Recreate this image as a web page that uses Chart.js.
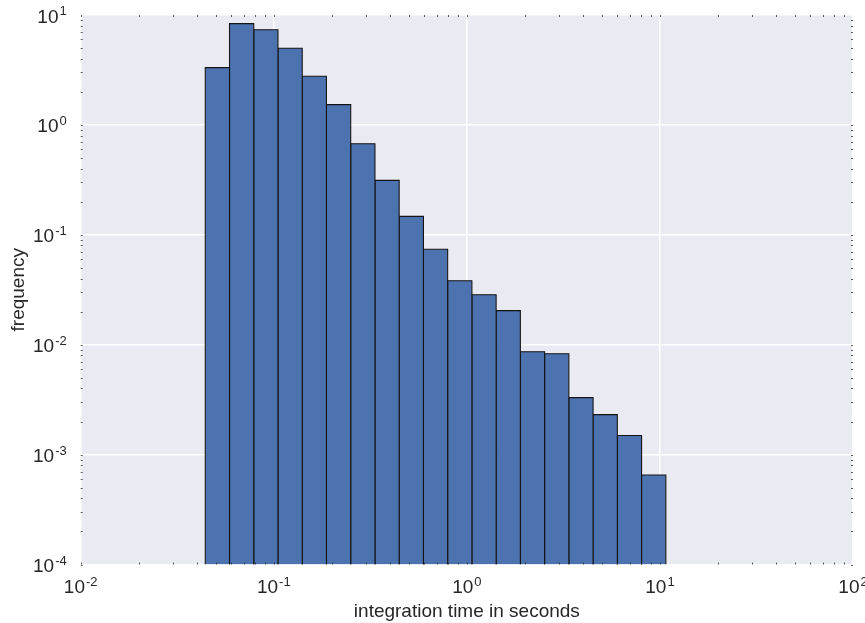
<!DOCTYPE html>
<html>
<head>
<meta charset="utf-8">
<script src="https://cdn.jsdelivr.net/npm/chart.js@4/dist/chart.umd.min.js"></script>
<style>
  html, body { margin: 0; padding: 0; background: #fff; }
  canvas { display: block; }
</style>
</head>
<body>
<canvas id="hist" width="865" height="623"></canvas>
<script>
  // ===== Data =====
  const binEdges = [0.04418, 0.05899, 0.07875, 0.1051, 0.1404, 0.1874, 0.2503, 0.3342, 0.4462, 0.5958,
                    0.7954, 1.062, 1.418, 1.893, 2.528, 3.375, 4.506, 6.017, 8.034, 10.73];
  const freq = [3.32, 8.34, 7.35, 4.98, 2.77, 1.53, 0.674, 0.313, 0.147, 0.0738,
                0.0382, 0.0285, 0.0204, 0.00863, 0.00828, 0.0033, 0.00231, 0.00149, 0.000652];
  const xTicks = [0.01, 0.1, 1, 10, 100];
  const xExp = ["-2", "-1", "0", "1", "2"];
  const yTicks = [0.0001, 0.001, 0.01, 0.1, 1, 10];
  const yExp = ["-4", "-3", "-2", "-1", "0", "1"];

  const yMin = yTicks[0];
  const textColor = "#262626";

  // one closed outline per bin, filled down to the bottom of the axis
  const datasets = freq.map((v, i) => ({
    data: [
      { x: binEdges[i], y: yMin },
      { x: binEdges[i], y: v },
      { x: binEdges[i + 1], y: v },
      { x: binEdges[i + 1], y: yMin }
    ],
    borderColor: "#141414",
    borderWidth: 1.1,
    backgroundColor: "#4c72b0",
    fill: "start",
    pointRadius: 0,
    tension: 0
  }));

  // ===== Background, ticks and labels =====
  function drawPow(ctx, exp, x, y, align, raise) {
    ctx.font = "19px 'Liberation Sans', Arial, sans-serif";
    let wBase = ctx.measureText("10").width;
    ctx.font = "13px 'Liberation Sans', Arial, sans-serif";
    let wExp = ctx.measureText(exp).width;
    let total = wBase + 1 + wExp;
    let start = align === "center" ? x - total / 2 : x - total;
    ctx.textAlign = "left";
    ctx.textBaseline = "alphabetic";
    ctx.font = "19px 'Liberation Sans', Arial, sans-serif";
    ctx.fillText("10", start, y);
    ctx.font = "13px 'Liberation Sans', Arial, sans-serif";
    ctx.fillText(exp, start + wBase + 1, y - raise);
  }

  const decor = {
    id: "decor",
    beforeDraw(chart) {
      const { ctx, chartArea: a } = chart;
      ctx.save();
      ctx.fillStyle = "#eaeaf2";
      ctx.fillRect(a.left, a.top, a.right - a.left, a.bottom - a.top);
      ctx.restore();
    },
    afterDraw(chart) {
      const { ctx, chartArea: a, scales } = chart;
      const x = scales.x, y = scales.y;
      ctx.save();

      // small inward ticks on all four sides
      ctx.strokeStyle = "rgba(40,40,40,0.75)";
      ctx.lineWidth = 1;
      ctx.beginPath();
      for (let d = -2; d <= 1; d++) {
        for (let m = 1; m <= 9; m++) {
          let px = Math.round(x.getPixelForValue(m * Math.pow(10, d))) + 0.5;
          ctx.moveTo(px, a.top); ctx.lineTo(px, a.top + 2);
          ctx.moveTo(px, a.bottom); ctx.lineTo(px, a.bottom - 2);
        }
      }
      for (let d = -4; d <= 0; d++) {
        for (let m = 1; m <= 9; m++) {
          let py = Math.round(y.getPixelForValue(m * Math.pow(10, d))) + 0.5;
          ctx.moveTo(a.left, py); ctx.lineTo(a.left + 2, py);
          ctx.moveTo(a.right, py); ctx.lineTo(a.right - 2, py);
        }
      }
      ctx.stroke();

      ctx.fillStyle = textColor;
      xTicks.forEach((v, i) => {
        drawPow(ctx, xExp[i], x.getPixelForValue(v), a.bottom + 28, "center", 6.5);
      });
      yTicks.forEach((v, i) => {
        drawPow(ctx, yExp[i], a.left - 14, y.getPixelForValue(v) + 7.5, "right", 7.5);
      });

      ctx.font = "19px 'Liberation Sans', Arial, sans-serif";
      ctx.textAlign = "center";
      ctx.textBaseline = "alphabetic";
      ctx.fillText("integration time in seconds", (a.left + a.right) / 2, 617);

      ctx.translate(23.5, (a.top + a.bottom) / 2);
      ctx.rotate(-Math.PI / 2);
      ctx.fillText("frequency", 0, 0);
      ctx.restore();
    }
  };

  // ===== Chart =====
  const ctx = document.getElementById("hist").getContext("2d");
  new Chart(ctx, {
    type: "line",
    data: { datasets: datasets },
    options: {
      responsive: false,
      animation: false,
      devicePixelRatio: 1,
      layout: { padding: { left: 80.7, right: 12, top: 15, bottom: 58.5 } },
      plugins: { legend: { display: false }, tooltip: { enabled: false } },
      scales: {
        x: {
          type: "logarithmic",
          min: 0.01,
          max: 100,
          afterBuildTicks: s => { s.ticks = xTicks.map(v => ({ value: v })); },
          ticks: { display: false },
          grid: { color: "#ffffff", lineWidth: 1.5, drawTicks: false },
          border: { display: false }
        },
        y: {
          type: "logarithmic",
          min: yMin,
          max: 10,
          afterBuildTicks: s => { s.ticks = yTicks.map(v => ({ value: v })); },
          ticks: { display: false },
          grid: { color: "#ffffff", lineWidth: 1.5, drawTicks: false },
          border: { display: false }
        }
      }
    },
    plugins: [decor]
  });
</script>
</body>
</html>
